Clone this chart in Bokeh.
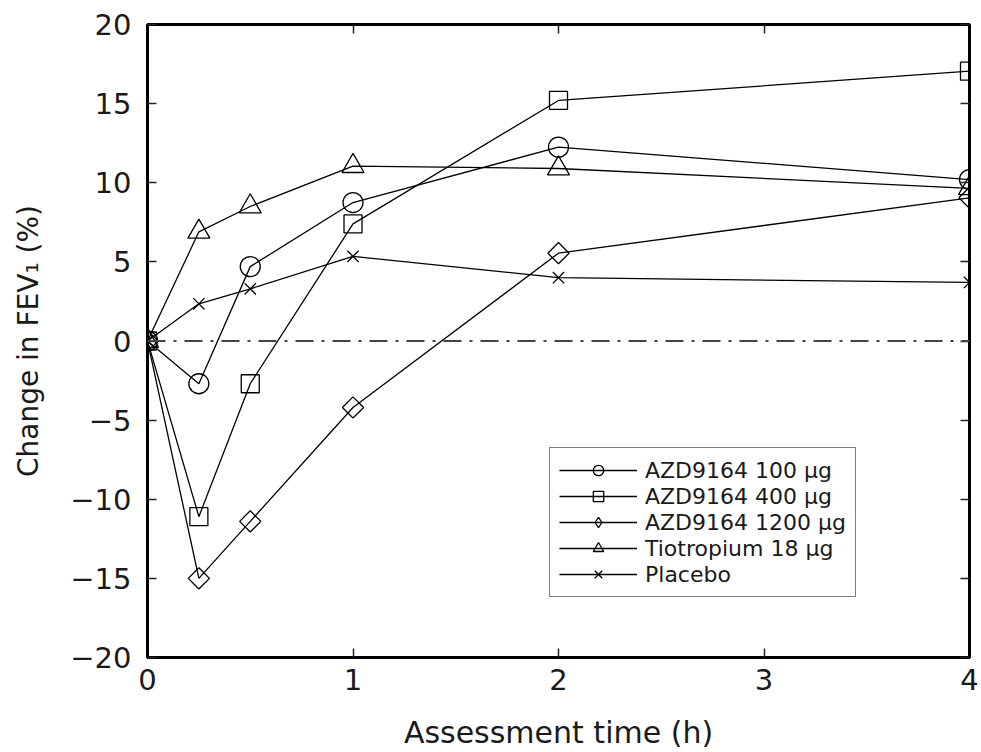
import numpy as np
from bokeh.plotting import figure
from bokeh.models import Range1d, LinearAxis, FixedTicker, Span, Legend, LegendItem
from bokeh.embed import file_html
from bokeh.resources import INLINE

# ---- data ----
times = [0, 0.25, 0.5, 1, 2, 4]
azd100 = [0, -2.7, 4.7, 8.75, 12.25, 10.2]
azd400 = [0, -11.1, -2.7, 7.4, 15.2, 17.05]
azd1200 = [0, -15.0, -11.4, -4.2, 5.55, 9.05]
tiotropium = [0, 6.9, 8.5, 11.05, 10.9, 9.65]
placebo = [0, 2.35, 3.3, 5.35, 4.0, 3.7]

series_labels = ["AZD9164 100 µg", "AZD9164 400 µg", "AZD9164 1200 µg",
                 "Tiotropium 18 µg", "Placebo"]

x_ticks = [0, 1, 2, 3, 4]
y_ticks = [-20, -15, -10, -5, 0, 5, 10, 15, 20]
y_tick_labels = ["−20", "−15", "−10", "−5", "0", "5", "10", "15", "20"]

FONT = "DejaVu Sans"
TXT = "#1a1a1a"

p = figure(width=981, height=752, output_backend="svg", toolbar_location=None,
           x_range=Range1d(0, 4), y_range=Range1d(-20, 20),
           min_border_left=147, min_border_right=12, min_border_top=24, min_border_bottom=94)
p.xgrid.visible = False
p.ygrid.visible = False
p.outline_line_color = "black"
p.outline_line_width = 3
p.background_fill_color = "white"
p.border_fill_color = "white"

def style_axis(ax, show_labels):
    ax.axis_line_color = "black"
    ax.axis_line_width = 3
    ax.major_tick_in = 9
    ax.major_tick_out = 0
    ax.minor_tick_line_color = None
    ax.major_tick_line_color = "#222222"
    ax.major_tick_line_width = 1.5
    ax.major_label_text_font = FONT
    if show_labels:
        ax.major_label_text_font_size = "29px"
        ax.major_label_text_color = TXT
    else:
        ax.major_label_text_font_size = "1px"
        ax.major_label_text_color = None
        ax.major_label_text_alpha = 0
        ax.major_label_standoff = 0

xa = p.xaxis[0]
xa.ticker = FixedTicker(ticks=x_ticks)
style_axis(xa, True)
xa.major_label_standoff = 11
xa.axis_label = "Assessment time (h)"
xa.axis_label_text_font = FONT
xa.axis_label_text_font_size = "30px"
xa.axis_label_text_font_style = "normal"
xa.axis_label_text_color = TXT
xa.axis_label_standoff = 22

ya = p.yaxis[0]
ya.ticker = FixedTicker(ticks=y_ticks)
ya.major_label_overrides = {t: l for t, l in zip(y_ticks, y_tick_labels)}
style_axis(ya, True)
ya.major_label_standoff = 16
ya.axis_label = "Change in FEV₁ (%)"
ya.axis_label_text_font = FONT
ya.axis_label_text_font_size = "28px"
ya.axis_label_text_font_style = "normal"
ya.axis_label_text_color = TXT
ya.axis_label_standoff = 22

top = LinearAxis(ticker=FixedTicker(ticks=x_ticks))
style_axis(top, False)
p.add_layout(top, "above")
right = LinearAxis(ticker=FixedTicker(ticks=y_ticks))
style_axis(right, False)
p.add_layout(right, "right")

zero = Span(location=0, dimension="width", line_color="#444444", line_width=2,
            line_dash="18 8 3 8")
p.add_layout(zero)

series = [azd100, azd400, azd1200, tiotropium, placebo]
markers = ["circle", "square", "square", "triangle", "x"]
legend_markers = ["circle", "square", "diamond", "triangle", "x"]
sizes = [20, 18, 15, 22, 16]
angles = [0, 0, np.pi / 4, 0, 0]

items = []
for vals, mk, lmk, sz, ang, lab in zip(series, markers, legend_markers, sizes, angles, series_labels):
    lr = p.line(times, vals, line_color="black", line_width=1.3)
    sr = p.scatter(times, vals, marker=mk, size=sz, angle=ang,
                   fill_color=None, line_color="black", line_width=1.3)
    if lmk != mk:
        # legend-only glyph (hidden on the plot): diamond symbol for the legend key
        hr = p.scatter(times, vals, marker=lmk, size=sz, fill_color=None,
                       line_color="black", line_width=1.3, visible=False)
        items.append(LegendItem(label=lab, renderers=[lr, hr]))
    else:
        items.append(LegendItem(label=lab, renderers=[lr, sr]))

legend = Legend(items=items, location=(402, 60))
legend.click_policy = "none"
legend.inactive_fill_alpha = 0
legend.label_text_font = FONT
legend.label_text_font_size = "22px"
legend.label_text_color = TXT
legend.glyph_width = 78
legend.glyph_height = 26
legend.label_height = 26
legend.label_standoff = 8
legend.spacing = 0
legend.padding = 9
legend.margin = 0
legend.border_line_color = "black"
legend.border_line_width = 1.3
legend.background_fill_alpha = 1
p.add_layout(legend)

open("out.html", "w").write(file_html(p, INLINE))
